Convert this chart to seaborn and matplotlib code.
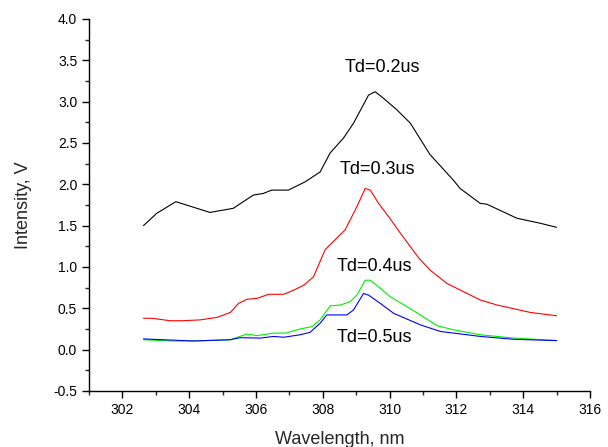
import matplotlib
matplotlib.use("Agg")
import matplotlib.pyplot as plt
import seaborn as sns
import pandas as pd
from matplotlib.ticker import MultipleLocator

# Data
x_02 = [302.63, 303.03, 303.60, 304.62, 305.32, 305.92, 306.22, 306.47, 306.97, 307.47,
        307.92, 308.22, 308.62, 308.92, 309.37, 309.57, 309.82, 310.22, 310.62, 311.21,
        311.91, 312.11, 312.71, 312.91, 313.81, 314.50, 315.00]
y_02 = [1.50, 1.65, 1.79, 1.66, 1.71, 1.87, 1.89, 1.93, 1.93, 2.03,
        2.15, 2.38, 2.56, 2.74, 3.08, 3.12, 3.04, 2.90, 2.74, 2.36,
        2.05, 1.95, 1.77, 1.76, 1.59, 1.53, 1.48]

x_03 = [302.63, 302.88, 303.43, 303.78, 304.33, 304.83, 305.23, 305.48, 305.73, 306.03,
        306.38, 306.83, 307.13, 307.43, 307.72, 308.07, 308.32, 308.67, 309.02, 309.27,
        309.42, 309.67, 309.97, 310.32, 310.87, 311.22, 311.72, 312.72, 313.22, 314.22, 315.00]
y_03 = [0.38, 0.38, 0.35, 0.35, 0.36, 0.39, 0.45, 0.56, 0.61, 0.62,
        0.67, 0.67, 0.72, 0.78, 0.88, 1.21, 1.31, 1.45, 1.73, 1.95,
        1.93, 1.77, 1.61, 1.41, 1.11, 0.96, 0.80, 0.60, 0.54, 0.45, 0.41]

x_04 = [302.63, 303.43, 304.13, 305.23, 305.73, 306.03, 306.53, 306.88, 307.32, 307.68,
        307.92, 308.22, 308.52, 308.82, 309.02, 309.27, 309.42, 309.67, 310.02, 310.52,
        310.92, 311.42, 311.92, 312.72, 313.72, 315.00]
y_04 = [0.12, 0.105, 0.105, 0.12, 0.19, 0.17, 0.20, 0.20, 0.25, 0.28,
        0.36, 0.53, 0.54, 0.58, 0.66, 0.84, 0.84, 0.76, 0.64, 0.52,
        0.42, 0.29, 0.24, 0.18, 0.14, 0.11]

x_05 = [302.63, 304.13, 305.23, 305.53, 306.13, 306.53, 306.83, 307.32, 307.62, 307.92,
        308.12, 308.42, 308.72, 308.92, 309.22, 309.37, 309.72, 310.12, 310.92, 311.52,
        312.72, 313.72, 315.00]
y_05 = [0.13, 0.105, 0.12, 0.145, 0.14, 0.16, 0.15, 0.18, 0.21, 0.32,
        0.42, 0.42, 0.42, 0.48, 0.68, 0.66, 0.56, 0.44, 0.30, 0.22,
        0.16, 0.125, 0.11]

labels = ["Td=0.2us", "Td=0.3us", "Td=0.4us", "Td=0.5us"]
colors = ["black", "red", "#00ee00", "blue"]
label_x = [309.77, 309.62, 309.53, 309.54]
label_y = [3.41, 2.18, 1.00, 0.15]

frames = []
for lab, xs, ys in zip(labels, [x_02, x_03, x_04, x_05], [y_02, y_03, y_04, y_05]):
    frames.append(pd.DataFrame({"Wavelength": xs, "Intensity": ys, "Series": lab}))
df = pd.concat(frames, ignore_index=True)

sns.set_style("ticks")
plt.rcParams["font.family"] = ["Liberation Sans", "DejaVu Sans"]

fig = plt.figure(figsize=(6.08, 4.47), dpi=100)
ax = fig.add_axes([0.1464, 0.1253, 0.824, 0.8322])

sns.lineplot(data=df, x="Wavelength", y="Intensity", hue="Series",
             palette=dict(zip(labels, colors)), hue_order=labels,
             linewidth=0.8, legend=False, ax=ax, sort=False, estimator=None)

for lab, lx, ly in zip(labels, label_x, label_y):
    ax.text(lx, ly, lab, ha="center", va="center", fontsize=13, color="black")

ax.set_xlim(301, 316)
ax.set_ylim(-0.5, 4.0)
ax.xaxis.set_major_locator(MultipleLocator(2))
ax.xaxis.set_minor_locator(MultipleLocator(1))
ax.yaxis.set_major_locator(MultipleLocator(0.5))
ax.yaxis.set_minor_locator(MultipleLocator(0.25))
ax.yaxis.set_major_formatter(matplotlib.ticker.FormatStrFormatter("%.1f"))
ax.tick_params(which="major", direction="out", length=5, width=1, labelsize=10, colors="black")
ax.tick_params(which="minor", direction="out", length=3, width=1)
for s in ["top", "right"]:
    ax.spines[s].set_visible(False)
for s in ["left", "bottom"]:
    ax.spines[s].set_linewidth(1.0)
    ax.spines[s].set_color("black")

ax.set_xlabel("Wavelength, nm", fontsize=13, labelpad=10)
ax.set_ylabel("Intensity, V", fontsize=13, labelpad=15)

fig.savefig("out.png", dpi=100)
